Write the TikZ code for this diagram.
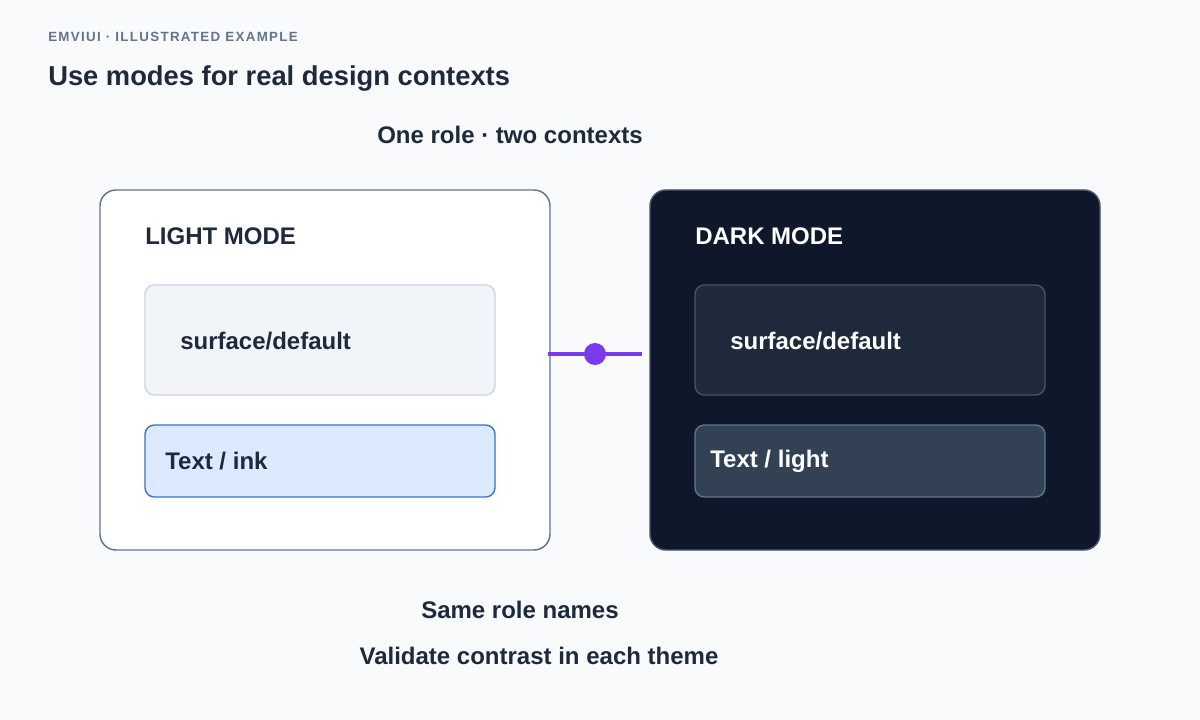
\documentclass[tikz,border=0pt]{standalone}
\usepackage{fontspec}
\setmainfont{Liberation Sans}
\begin{document}
\begin{tikzpicture}[x=0.75pt,y=-0.75pt,
 txt/.style={font=\bfseries\fontsize{18}{20}\selectfont,text=ink,inner sep=0pt},
 panel/.style={rounded corners=12pt,line width=1.1pt},
 inner/.style={rounded corners=7pt,line width=1pt}]
\definecolor{bg}{HTML}{F8FAFC}
\definecolor{ink}{HTML}{1E293B}
\definecolor{gry}{HTML}{64748B}
\definecolor{purp}{HTML}{7C3AED}
\fill[bg] (0,0) rectangle (1200,720);
\useasboundingbox (0,0) rectangle (1200,720);
\node[anchor=west,inner sep=0pt,text=gry,font=\bfseries\fontsize{10}{12}\selectfont] (hdr) at (48,37) {\addfontfeatures{LetterSpace=10}EMVIUI · ILLUSTRATED EXAMPLE};
\node[anchor=west,inner sep=0pt,text=ink,font=\bfseries\fontsize{20.5}{24}\selectfont] (title) at (48,78) {Use modes for real design contexts};
\node[txt] (sub) at (510,135) {One role · two contexts};
\draw[panel,draw=gry,fill=white] (100,190) rectangle (550,550);
\draw[panel,draw={rgb,255:red,71;green,85;blue,105},fill={rgb,255:red,15;green,23;blue,42}] (650,190) rectangle (1100,550);
\node[txt,anchor=west] (lm) at (145,236) {LIGHT MODE};
\node[txt,anchor=west,text=white] (dm) at (695,236) {DARK MODE};
\draw[inner,draw={rgb,255:red,203;green,213;blue,225},fill={rgb,255:red,241;green,245;blue,249}] (145,285) rectangle (495,395);
\draw[inner,draw={rgb,255:red,59;green,111;blue,196},fill={rgb,255:red,219;green,234;blue,254}] (145,425) rectangle (495,497);
\draw[inner,draw={rgb,255:red,71;green,85;blue,105},fill={rgb,255:red,30;green,41;blue,59}] (695,285) rectangle (1045,395);
\draw[inner,draw={rgb,255:red,100;green,116;blue,139},fill={rgb,255:red,51;green,65;blue,85}] (695,425) rectangle (1045,497);
\node[txt,anchor=west] (s1) at (180,341) {surface/default};
\node[txt,anchor=west] (t1) at (165,461) {Text / ink};
\node[txt,anchor=west,text=white] (s2) at (730,341) {surface/default};
\node[txt,anchor=west,text=white] (t2) at (710,461) {Text / light};
\coordinate (ca) at (548,354);
\coordinate (cb) at (642,354);
\draw[purp,line width=3pt] (ca) -- (cb);
\node[circle,fill=purp,minimum size=16.5pt,inner sep=0pt] (dot) at (595,354) {};
\node[txt] (b1) at (520,610) {Same role names};
\node[txt] (b2) at (539,656) {Validate contrast in each theme};
\end{tikzpicture}
\end{document}
